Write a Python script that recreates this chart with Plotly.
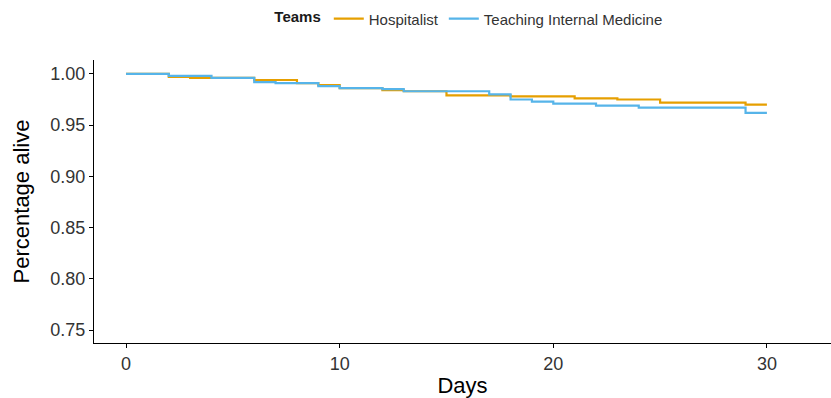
import plotly.graph_objects as go

hosp_days = [0, 2, 3, 6, 8, 9, 10, 12, 13, 15, 18, 21, 23, 25, 29, 30]
hosp_surv = [1.000, 0.997, 0.996, 0.994, 0.991, 0.989, 0.986, 0.984, 0.983, 0.979, 0.978, 0.976, 0.975, 0.972, 0.970, 0.970]

tim_days = [0, 2, 4, 6, 7, 9, 10, 12, 13, 17, 18, 19, 20, 22, 24, 29, 30]
tim_surv = [1.000, 0.998, 0.996, 0.992, 0.991, 0.988, 0.986, 0.985, 0.983, 0.980, 0.975, 0.973, 0.971, 0.969, 0.967, 0.962, 0.962]

x_ticks = [0, 10, 20, 30]
y_ticks = [0.75, 0.80, 0.85, 0.90, 0.95, 1.00]

fig = go.Figure()
fig.add_trace(go.Scatter(x=hosp_days, y=hosp_surv, mode="lines", line_shape="hv",
                         name="Hospitalist", line=dict(color="#E69F00", width=2.2)))
fig.add_trace(go.Scatter(x=tim_days, y=tim_surv, mode="lines", line_shape="hv",
                         name="Teaching Internal Medicine", line=dict(color="#56B4E9", width=2.2)))

font_family = "Liberation Sans, Arial, sans-serif"
fig.update_layout(
    width=831, height=398,
    margin=dict(l=94, r=0, t=60, b=55, autoexpand=False),
    paper_bgcolor="white", plot_bgcolor="white",
    font=dict(family=font_family, color="#1a1a1a"),
    legend=dict(orientation="h", x=0.51, xanchor="center", y=1.145, yanchor="middle",
                title=dict(text="<b>Teams</b>", font=dict(size=15, color="#1a1a1a")),
                font=dict(size=15, color="#333333"), itemwidth=30, tracegroupgap=0),
    xaxis=dict(range=[-1.5, 33.0], tickvals=x_ticks, showgrid=False, zeroline=False,
               showline=True, linecolor="black", linewidth=1, ticks="outside", ticklen=4,
               tickcolor="black", tickfont=dict(size=18, color="#333333"), automargin=False,
               title=dict(text="Days", font=dict(size=22, color="black"), standoff=5)),
    yaxis=dict(range=[0.7375, 1.0135], tickvals=y_ticks, tickformat=".2f", showgrid=False,
               zeroline=False, showline=True, linecolor="black", linewidth=1, ticks="outside",
               ticklen=4, tickcolor="black", tickfont=dict(size=18, color="#333333"), automargin=False,
               title=dict(text="Percentage alive", font=dict(size=22, color="black"), standoff=14)),
)

fig.write_html("out.html", config={"displayModeBar": False},
               post_script="document.body.style.margin='0';document.body.style.padding='0';document.body.style.overflow='hidden';")
